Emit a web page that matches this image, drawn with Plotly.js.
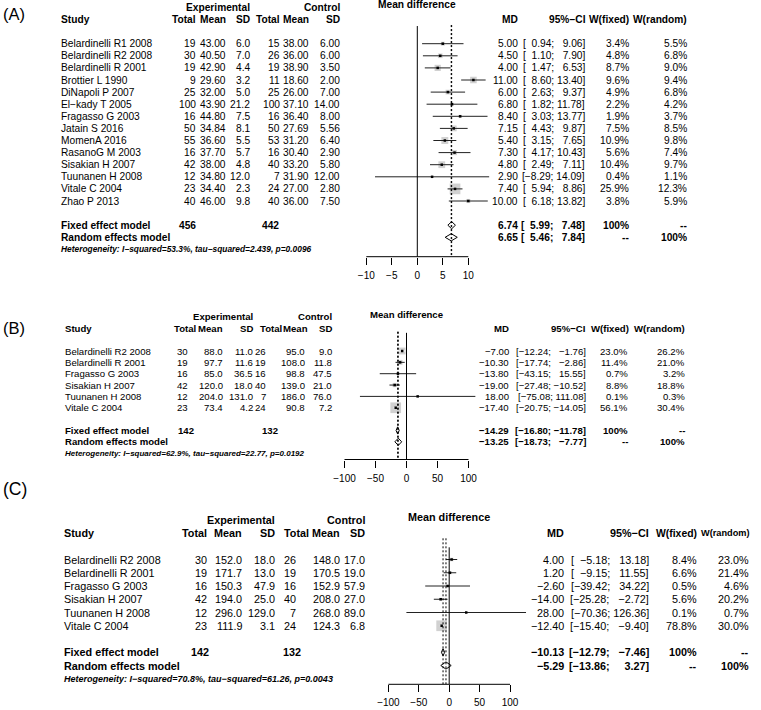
<!DOCTYPE html>
<html><head><meta charset="utf-8">
<script src="https://cdn.plot.ly/plotly-3.0.1.min.js"></script>
<style>html,body{margin:0;padding:0;background:#fff;}#chart{width:761px;height:710px;}</style>
</head><body><div id="chart"></div>
<script>
// ---------------- Panel A data ----------------
const A_study = ["Belardinelli R1 2008","Belardinelli R2 2008","Belardinelli R 2001","Brottier L 1990","DiNapoli P 2007","El\u2212kady T 2005","Fragasso G 2003","Jatain S 2016","MomenA 2016","RasanoG M 2003","Sisakian H 2007","Tuunanen H 2008","Vitale C 2004","Zhao P 2013"];
const A_expN = [19,30,19,9,25,100,16,50,55,16,42,12,23,40];
const A_expMean = [43.00,40.50,42.90,29.60,32.00,43.90,44.80,34.84,36.60,37.70,38.00,34.80,34.40,46.00];
const A_expSD = [6.0,7.0,4.4,3.2,5.0,21.2,7.5,8.1,5.5,5.7,4.8,12.0,2.3,9.8];
const A_ctlN = [15,26,19,11,25,100,16,50,53,16,40,7,24,40];
const A_ctlMean = [38.00,36.00,38.90,18.60,26.00,37.10,36.40,27.69,31.20,30.40,33.20,31.90,27.00,36.00];
const A_ctlSD = [6.00,6.00,3.50,2.00,7.00,14.00,8.00,5.56,6.40,2.90,5.80,12.00,2.80,7.50];
const A_md = [5.00,4.50,4.00,11.00,6.00,6.80,8.40,7.15,5.40,7.30,4.80,2.90,7.40,10.00];
const A_lower = [0.94,1.10,1.47,8.60,2.63,1.82,3.03,4.43,3.15,4.17,2.49,-8.29,5.94,6.18];
const A_upper = [9.06,7.90,6.53,13.40,9.37,11.78,13.77,9.87,7.65,10.43,7.11,14.09,8.86,13.82];
const A_wFixed = [3.4,4.8,8.7,9.6,4.9,2.2,1.9,7.5,10.9,5.6,10.4,0.4,25.9,3.8];
const A_wRandom = [5.5,6.8,9.0,9.4,6.8,4.2,3.7,8.5,9.8,7.4,9.7,1.1,12.3,5.9];
const A_fixed = [6.74,5.99,7.48];
const A_random = [6.65,5.46,7.84];
const A_totals = [456,442];
const A_het = "Heterogeneity: I\u2212squared=53.3%, tau\u2212squared=2.439, p=0.0096";
const A_ticks = [-10,-5,0,5,10];

// ---------------- Panel B data ----------------
const B_study = ["Belardinelli R2 2008","Belardinelli R 2001","Fragasso G 2003","Sisakian H 2007","Tuunanen H 2008","Vitale C 2004"];
const B_expN = [30,19,16,42,12,23];
const B_expMean = [88.0,97.7,85.0,120.0,204.0,73.4];
const B_expSD = [11.0,11.6,36.5,18.0,131.0,4.2];
const B_ctlN = [26,19,16,40,7,24];
const B_ctlMean = [95.0,108.0,98.8,139.0,186.0,90.8];
const B_ctlSD = [9.0,11.8,47.5,21.0,76.0,7.2];
const B_md = [-7.00,-10.30,-13.80,-19.00,18.00,-17.40];
const B_lower = [-12.24,-17.74,-43.15,-27.48,-75.08,-20.75];
const B_upper = [-1.76,-2.86,15.55,-10.52,111.08,-14.05];
const B_wFixed = [23.0,11.4,0.7,8.8,0.1,56.1];
const B_wRandom = [26.2,21.0,3.2,18.8,0.3,30.4];
const B_fixed = [-14.29,-16.80,-11.78];
const B_random = [-13.25,-18.73,-7.77];
const B_totals = [142,132];
const B_het = "Heterogeneity: I\u2212squared=62.9%, tau\u2212squared=22.77, p=0.0192";
const B_ticks = [-100,-50,0,50,100];

// ---------------- Panel C data ----------------
const C_study = ["Belardinelli R2 2008","Belardinelli R 2001","Fragasso G 2003","Sisakian H 2007","Tuunanen H 2008","Vitale C 2004"];
const C_expN = [30,19,16,42,12,23];
const C_expMean = [152.0,171.7,150.3,194.0,296.0,111.9];
const C_expSD = [18.0,13.0,47.9,25.0,129.0,3.1];
const C_ctlN = [26,19,16,40,7,24];
const C_ctlMean = [148.0,170.5,152.9,208.0,268.0,124.3];
const C_ctlSD = [17.0,19.0,57.9,27.0,89.0,6.8];
const C_md = [4.00,1.20,-2.60,-14.00,28.00,-12.40];
const C_lower = [-5.18,-9.15,-39.42,-25.28,-70.36,-15.40];
const C_upper = [13.18,11.55,34.22,-2.72,126.36,-9.40];
const C_wFixed = [8.4,6.6,0.5,5.6,0.1,78.8];
const C_wRandom = [23.0,21.4,4.6,20.2,0.7,30.0];
const C_fixed = [-10.13,-12.79,-7.46];
const C_random = [-5.29,-13.86,3.27];
const C_totals = [142,132];
const C_het = "Heterogeneity: I\u2212squared=70.8%, tau\u2212squared=61.26, p=0.0043";
const C_ticks = [-100,-50,0,50,100];

const HEAD_LEFT = ["Total","Mean","SD","Total","Mean","SD"];
const HEAD_RIGHT = ["MD","95%\u2212CI","W(fixed)","W(random)"];
const PANEL_LABELS = ["(A)","(B)","(C)"];

// ---------------- layout / styling ----------------
const W = 761, H = 710;
const FONT = 'Liberation Sans, Arial, Helvetica, sans-serif';
const MINUS = '\u2212', FSP = '\u2007';
function num(v, d){ return (v < 0 ? MINUS : '') + Math.abs(v).toFixed(d); }
function padL(s, n){ while (s.length < n) s = FSP + s; return s; }

const cfgA = {xDom:[345,500], zeroPx:417.3, ppu:5.1, row0:43.7, rowH:12.1, pt:0, pb:256.7,
  font:10.2, het:8.4, dec:[2,1,2,2], zeroTop:-1.46, dashTop:-1.54, labelY:14, labelSize:16.5,
  col:{study:60, expN:197, expMean:227, expSD:251, ctlN:281, ctlMean:310, ctlSD:341, md:519, ci:586, wf:630, wr:688},
  hdr:[197,227,251,281,310,341], hdrR:[519,587,630,688], hdrRSize:[10.2,10.2,10.2,10.2], totN:[197,280], studyX:60};
const cfgB = {xDom:[340,490], zeroPx:406.5, ppu:0.62, row0:351, rowH:11.35, pt:305, pb:459.5,
  font:9.6, het:8.0, dec:[1,1,1,1], zeroTop:-1.6, dashTop:-1.7, labelY:328, labelSize:16.5,
  col:{study:64, expN:189, expMean:224, expSD:254, ctlN:266.7, ctlMean:306, ctlSD:333, md:510, ci:587, wf:629, wr:686},
  hdr:[197,224,254,283,309,333], hdrR:[510,587,630,686], hdrRSize:[9.6,9.6,9.6,9.6], totN:[195,279], studyX:64};
const cfgC = {xDom:[380,535], zeroPx:449.2, ppu:0.608, row0:559.5, rowH:13.25, pt:508, pb:684.3,
  font:10.8, het:9.0, dec:[1,1,1,1], zeroTop:-0.92, dashTop:-1.6, labelY:489, labelSize:17.5,
  col:{study:63, expN:208, expMean:243, expSD:276, ctlN:297, ctlMean:341, ctlSD:366, md:565, ci:649.5, wf:697.7, wr:750},
  hdr:[208,243,276,310,341,366], hdrR:[565,650,698,750], hdrRSize:[10.8,10.8,10.4,9.2], totN:[210,302], studyX:63};

const panels = [
  {d:{study:A_study, expN:A_expN, expMean:A_expMean, expSD:A_expSD, ctlN:A_ctlN, ctlMean:A_ctlMean, ctlSD:A_ctlSD, md:A_md, lo:A_lower, hi:A_upper, wF:A_wFixed, wR:A_wRandom, fixed:A_fixed, random:A_random, totals:A_totals, het:A_het, ticks:A_ticks}, c:cfgA},
  {d:{study:B_study, expN:B_expN, expMean:B_expMean, expSD:B_expSD, ctlN:B_ctlN, ctlMean:B_ctlMean, ctlSD:B_ctlSD, md:B_md, lo:B_lower, hi:B_upper, wF:B_wFixed, wR:B_wRandom, fixed:B_fixed, random:B_random, totals:B_totals, het:B_het, ticks:B_ticks}, c:cfgB},
  {d:{study:C_study, expN:C_expN, expMean:C_expMean, expSD:C_expSD, ctlN:C_ctlN, ctlMean:C_ctlMean, ctlSD:C_ctlSD, md:C_md, lo:C_lower, hi:C_upper, wF:C_wFixed, wR:C_wRandom, fixed:C_fixed, random:C_random, totals:C_totals, het:C_het, ticks:C_ticks}, c:cfgC}
];

const traces = [], shapes = [], annotations = [];
const layout = {width:W, height:H, margin:{l:0,r:0,t:0,b:0}, paper_bgcolor:'#fff', plot_bgcolor:'rgba(0,0,0,0)',
  showlegend:false, font:{family:FONT, color:'#000'}, hovermode:false};

function ann(text, x, xref, y, yref, anchor, size){
  annotations.push({text:text, x:x, xref:xref, y:y, yref:yref, xanchor:anchor, yanchor:'middle',
    showarrow:false, borderpad:0, font:{family:FONT, size:size, color:'#000'}});
}

panels.forEach((p, idx) => {
  const k = idx + 1, d = p.d, c = p.c;
  const xid = k === 1 ? 'x' : 'x' + k, yid = k === 1 ? 'y' : 'y' + k;
  const n = d.study.length, rF = n + 1, rR = n + 2, rH = n + 3;
  const yBot = (c.pb - c.row0) / c.rowH, yTop = (c.pt - c.row0) / c.rowH;
  layout[k === 1 ? 'xaxis' : 'xaxis' + k] = {domain:[c.xDom[0]/W, c.xDom[1]/W],
    range:[(c.xDom[0]-c.zeroPx)/c.ppu, (c.xDom[1]-c.zeroPx)/c.ppu], anchor:yid,
    showgrid:false, zeroline:false, showline:false, ticks:'outside', ticklen:7, tickwidth:1, tickcolor:'#000',
    tickmode:'array', tickvals:d.ticks, tickfont:{family:FONT, size:10, color:'#000'}, ticklabelstandoff:2, fixedrange:true};
  layout[k === 1 ? 'yaxis' : 'yaxis' + k] = {domain:[1 - c.pb/H, 1 - c.pt/H], range:[yBot, yTop], anchor:xid,
    visible:false, showgrid:false, zeroline:false, fixedrange:true};

  // axis baseline, zero line, summary lines
  shapes.push({type:'line', xref:xid, yref:yid + ' domain', x0:d.ticks[0], x1:d.ticks[d.ticks.length-1], y0:0, y1:0, line:{color:'#000', width:1}});
  shapes.push({type:'line', xref:xid, yref:yid, x0:0, x1:0, y0:c.zeroTop, y1:yBot, line:{color:'#000', width:1}});
  [d.fixed[0], d.random[0]].forEach(v => shapes.push({type:'line', xref:xid, yref:yid, x0:v, x1:v, y0:c.dashTop, y1:yBot, line:{color:'#000', width:1, dash:'2px,2px'}}));

  // squares
  const wmax = Math.max.apply(null, d.wF);
  const sizes = d.wF.map(w => 10.7 * Math.sqrt(w / wmax));
  traces.push({type:'scatter', mode:'markers', xaxis:xid, yaxis:yid, x:d.md, y:d.study.map((_, i) => i),
    marker:{symbol:'square', size:sizes, color:'#bdbdbd', line:{width:0}}, cliponaxis:false, hoverinfo:'skip'});
  // CI lines
  const lx = [], ly = [], wx = [], wy = [];
  d.md.forEach((m, i) => {
    const inside = (d.hi[i] - d.lo[i]) * c.ppu < sizes[i];
    if (inside) { wx.push(d.lo[i], d.hi[i], null); wy.push(i, i, null); }
    else { lx.push(d.lo[i], d.hi[i], null); ly.push(i, i, null); }
  });
  traces.push({type:'scatter', mode:'lines', xaxis:xid, yaxis:yid, x:lx, y:ly, line:{color:'#222', width:1}, hoverinfo:'skip'});
  if (wx.length) traces.push({type:'scatter', mode:'lines', xaxis:xid, yaxis:yid, x:wx, y:wy, line:{color:'#fff', width:1}, hoverinfo:'skip'});
  // center points
  traces.push({type:'scatter', mode:'markers', xaxis:xid, yaxis:yid, x:d.md, y:d.study.map((_, i) => i),
    marker:{symbol:'square', size:2.5, color:'#000', line:{width:0}}, cliponaxis:false, hoverinfo:'skip'});
  // diamonds
  const hh = 3.6 / c.rowH;
  [[d.fixed, rF], [d.random, rR]].forEach(([s, r]) => {
    traces.push({type:'scatter', mode:'lines', xaxis:xid, yaxis:yid, x:[s[1], s[0], s[2], s[0], s[1]], y:[r, r - hh, r, r + hh, r],
      fill:'toself', fillcolor:'#ffffff', line:{color:'#000', width:1}, hoverinfo:'skip'});
  });

  // ---- text ----
  const F = c.font;
  ann(PANEL_LABELS[idx], 2/W, 'paper', 1 - c.labelY/H, 'paper', 'left', c.labelSize);
  ann('<b>Study</b>', c.studyX/W, 'paper', -2, yid, 'left', F);
  ann('<b>Experimental</b>', c.hdr[2]/W, 'paper', -3, yid, 'right', F);
  ann('<b>Control</b>', c.hdr[5]/W, 'paper', -3, yid, 'right', F);
  HEAD_LEFT.forEach((h, j) => ann('<b>' + h + '</b>', c.hdr[j]/W, 'paper', -2, yid, 'right', F));
  HEAD_RIGHT.forEach((h, j) => ann('<b>' + h + '</b>', c.hdrR[j]/W, 'paper', -2, yid, 'right', c.hdrRSize[j]));
  ann('<b>Mean difference</b>', 0, xid, -3.2, yid, 'center', F);

  const allLo = d.lo.concat([d.fixed[1], d.random[1]]).map(v => num(v, 2));
  const allHi = d.hi.concat([d.fixed[2], d.random[2]]).map(v => num(v, 2));
  const wl = Math.max.apply(null, allLo.map(s => s.length));
  const wu = Math.max.apply(null, allHi.map(s => s.length));
  const ci = (lo, hi) => '[' + padL(num(lo, 2), wl) + '; ' + padL(num(hi, 2), wu) + ']';
  const col = c.col;
  d.study.forEach((s, i) => {
    ann(s, col.study/W, 'paper', i, yid, 'left', F);
    ann(String(d.expN[i]), col.expN/W, 'paper', i, yid, 'right', F);
    ann(num(d.expMean[i], c.dec[0]), col.expMean/W, 'paper', i, yid, 'right', F);
    ann(num(d.expSD[i], c.dec[1]), col.expSD/W, 'paper', i, yid, 'right', F);
    ann(String(d.ctlN[i]), col.ctlN/W, 'paper', i, yid, 'right', F);
    ann(num(d.ctlMean[i], c.dec[2]), col.ctlMean/W, 'paper', i, yid, 'right', F);
    ann(num(d.ctlSD[i], c.dec[3]), col.ctlSD/W, 'paper', i, yid, 'right', F);
    ann(num(d.md[i], 2), col.md/W, 'paper', i, yid, 'right', F);
    ann(ci(d.lo[i], d.hi[i]), col.ci/W, 'paper', i, yid, 'right', F);
    ann(d.wF[i].toFixed(1) + '%', col.wf/W, 'paper', i, yid, 'right', F);
    ann(d.wR[i].toFixed(1) + '%', col.wr/W, 'paper', i, yid, 'right', F);
  });
  // summary rows
  ann('<b>Fixed effect model</b>', col.study/W, 'paper', rF, yid, 'left', F);
  ann('<b>' + d.totals[0] + '</b>', c.totN[0]/W, 'paper', rF, yid, 'right', F);
  ann('<b>' + d.totals[1] + '</b>', c.totN[1]/W, 'paper', rF, yid, 'right', F);
  ann('<b>' + num(d.fixed[0], 2) + '</b>', col.md/W, 'paper', rF, yid, 'right', F);
  ann('<b>' + ci(d.fixed[1], d.fixed[2]) + '</b>', col.ci/W, 'paper', rF, yid, 'right', F);
  ann('<b>100%</b>', col.wf/W, 'paper', rF, yid, 'right', F);
  ann('<b>--</b>', col.wr/W, 'paper', rF, yid, 'right', F);
  ann('<b>Random effects model</b>', col.study/W, 'paper', rR, yid, 'left', F);
  ann('<b>' + num(d.random[0], 2) + '</b>', col.md/W, 'paper', rR, yid, 'right', F);
  ann('<b>' + ci(d.random[1], d.random[2]) + '</b>', col.ci/W, 'paper', rR, yid, 'right', F);
  ann('<b>--</b>', col.wf/W, 'paper', rR, yid, 'right', F);
  ann('<b>100%</b>', col.wr/W, 'paper', rR, yid, 'right', F);
  ann('<b><i>' + d.het + '</i></b>', col.study/W, 'paper', rH, yid, 'left', c.het);
});

layout.shapes = shapes;
layout.annotations = annotations;
Plotly.newPlot('chart', traces, layout, {displayModeBar:false, staticPlot:true});
</script>
</body></html>
